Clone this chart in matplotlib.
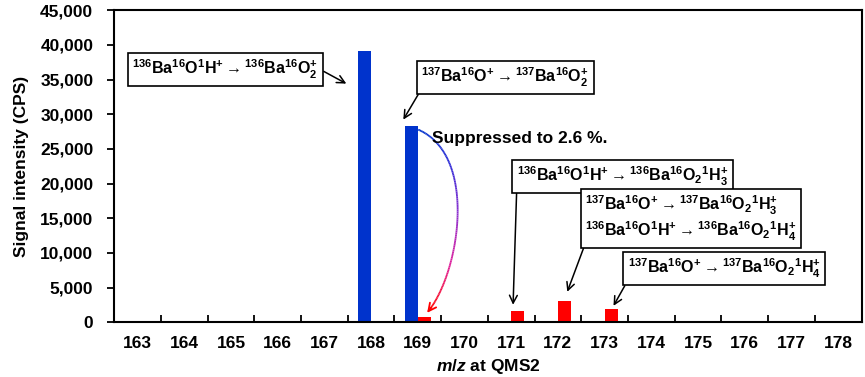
"""
Ba oxide / hydride signal intensity at QMS2, before and after reaction.
"""

import numpy as np
import matplotlib

matplotlib.use("Agg")

import matplotlib.pyplot as plt
from matplotlib.collections import LineCollection
from matplotlib.colors import LinearSegmentedColormap

plt.rcParams["font.family"] = ["Liberation Sans", "DejaVu Sans"]
plt.rcParams["font.weight"] = "bold"
plt.rcParams["axes.labelweight"] = "bold"
plt.rcParams["mathtext.fontset"] = "custom"
plt.rcParams["mathtext.rm"] = "Liberation Sans:bold"
plt.rcParams["mathtext.it"] = "Liberation Sans:italic:bold"
plt.rcParams["mathtext.bf"] = "Liberation Sans:bold"

mz = [163, 164, 165, 166, 167, 168, 169, 170, 171, 172, 173, 174, 175, 176, 177, 178]
before = [0, 0, 0, 0, 0, 39050, 28350, 0, 150, 0, 0, 0, 0, 0, 0, 0]
after = [0, 0, 0, 0, 0, 0, 750, 0, 1670, 3120, 1880, 0, 0, 0, 0, 0]

BLUE = "#0033cc"
RED = "#ff0000"

fig = plt.figure(figsize=(8.65, 3.77), dpi=100)
ax = fig.add_axes([0.132, 0.145, 0.864, 0.828])

x = np.arange(len(mz))
w = 0.28
ax.bar(x - w / 2, before, width=w, color=BLUE)
ax.bar(x + w / 2, after, width=w, color=RED)

ax.set_xlim(-0.5, len(mz) - 0.5)
ax.set_ylim(0, 45000)
ax.set_yticks(np.arange(0, 45001, 5000))
ax.set_yticklabels([f"{v:,}" for v in range(0, 45001, 5000)])
ax.set_xticks(x)
ax.set_xticklabels([str(m) for m in mz])
ax.set_xticks(np.arange(0.5, len(mz) - 1, 1), minor=True)

ax.tick_params(axis="x", which="major", length=0, pad=10, labelsize=12.5)
ax.tick_params(axis="x", which="minor", direction="in", length=5, width=1.3)
ax.tick_params(axis="y", direction="out", length=5, width=1.3, pad=10, labelsize=12.5)
for s in ax.spines.values():
    s.set_linewidth(1.5)

ax.set_ylabel("Signal intensity (CPS)", fontsize=12.5, labelpad=8)
ax.set_xlabel(r"$\mathit{m/z}$ at QMS2", fontsize=12.5, labelpad=4)

box = dict(boxstyle="square,pad=0.3", fc="white", ec="black", lw=1.2)
arr = dict(arrowstyle="->", color="black", lw=1.1, shrinkA=0, shrinkB=0,
           mutation_scale=14)


def note(text, xytext, xy, relpos):
    ax.annotate(text, xy=xy, xytext=xytext, textcoords="data", ha="center",
                va="center", fontsize=11.5, bbox=box, multialignment="left",
                arrowprops=dict(arr, relpos=relpos), linespacing=1.15)


A = r"$\rightarrow$"
note(r"$^{136}$Ba$^{16}$O$^{1}$H$^{+}$" + A + r"$^{136}$Ba$^{16}$O$_{2}^{+}$",
     (1.88, 36430), (4.47, 34410), (1, 0.55))
note(r"$^{137}$Ba$^{16}$O$^{+}$" + A + r"$^{137}$Ba$^{16}$O$_{2}^{+}$",
     (7.87, 35280), (5.69, 29220), (0, 0))
note(r"$^{136}$Ba$^{16}$O$^{1}$H$^{+}$" + A + r"$^{136}$Ba$^{16}$O$_{2}$$^{1}$H$_{3}^{+}$",
     (10.38, 21070), (8.04, 2530), (0, 0))
note(r"$^{137}$Ba$^{16}$O$^{+}$" + A + r"$^{137}$Ba$^{16}$O$_{2}$$^{1}$H$_{3}^{+}$" + "\n"
     + r"$^{136}$Ba$^{16}$O$^{1}$H$^{+}$" + A + r"$^{136}$Ba$^{16}$O$_{2}$$^{1}$H$_{4}^{+}$",
     (11.85, 14940), (9.2, 4400), (0, 0))
note(r"$^{137}$Ba$^{16}$O$^{+}$" + A + r"$^{137}$Ba$^{16}$O$_{2}$$^{1}$H$_{4}^{+}$",
     (12.56, 7720), (10.19, 2380), (0, 0))

ax.text(6.3, 26500, "Suppressed to 2.6 %.", fontsize=12.5, ha="left", va="center")

# curved blue -> red arrow from the 169 bar before to after
p0 = np.array([6.01, 27780])
p1 = np.array([7.3, 24000])
p2 = np.array([6.9, 7000])
p3 = np.array([6.2, 1370])
t = np.linspace(0, 1, 120)[:, None]
curve = (1 - t) ** 3 * p0 + 3 * (1 - t) ** 2 * t * p1 + 3 * (1 - t) * t ** 2 * p2 + t ** 3 * p3
segs = np.stack([curve[:-1], curve[1:]], axis=1)
cmap = LinearSegmentedColormap.from_list(
    "br", [BLUE, "#2a2ad6", "#8a2fd0", "#e0209a", RED])
lc = LineCollection(segs[:-4], cmap=cmap, linewidth=1.3)
lc.set_array(np.linspace(0, 1, len(segs) - 4))
ax.add_collection(lc)
ax.annotate("", xy=p3, xytext=curve[-6],
            arrowprops=dict(arrowstyle="->", color=RED, lw=1.3, shrinkA=0,
                            shrinkB=0, mutation_scale=14))

fig.savefig("out.png", dpi=100)
